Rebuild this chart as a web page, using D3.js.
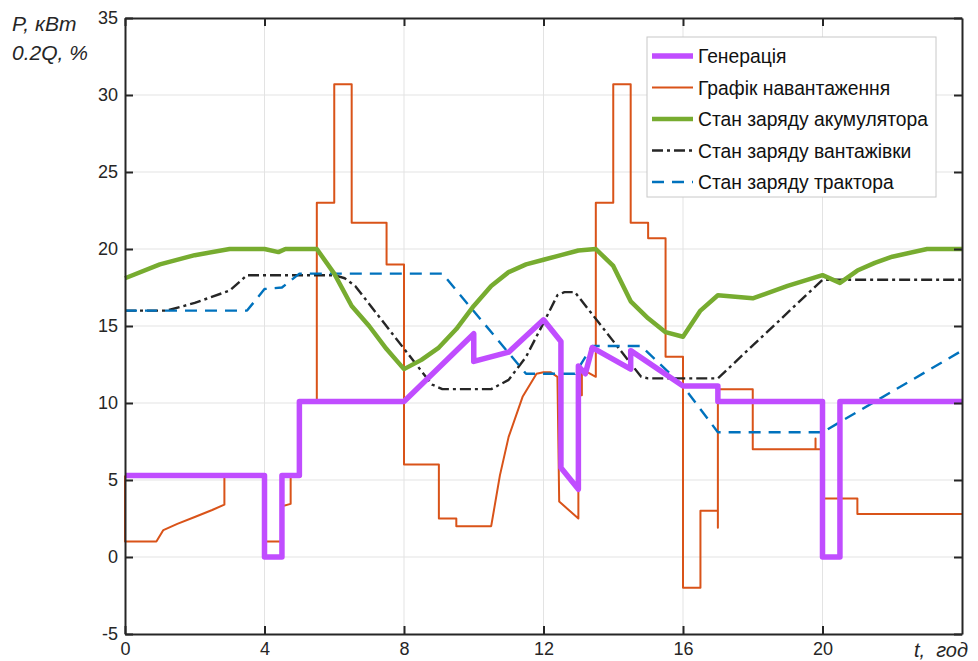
<!DOCTYPE html>
<html>
<head>
<meta charset="utf-8">
<script src="https://cdn.jsdelivr.net/npm/d3@7"></script>
<style>
  body { margin: 0; background: #fff; }
  svg { display: block; font-family: "Liberation Sans", Arial, sans-serif; }
</style>
</head>
<body>
<div id="vis"></div>
<script>
// series names (legend order)
const names = ["Генерація", "Графік навантаження", "Стан заряду акумулятора", "Стан заряду вантажівки", "Стан заряду трактора"];

// [t, value] pairs
const generation = [[0,5.3],[4,5.3],[4,0],[4.5,0],[4.5,5.3],[5,5.3],[5,10.1],[8,10.1],[10,14.5],[10,12.7],[11,13.3],[12,15.4],[12.5,14],[12.5,5.8],[13,4.4],[13,12.4],[13.2,11.9],[13.4,13.6],[14.5,12.2],[14.5,13.4],[16,11.1],[17,11.1],[17,10.1],[20,10.1],[20,0],[20.5,0],[20.5,10.1],[24,10.1]];
const load = [[0,5.3],[0,1],[0.9,1],[1.1,1.75],[1.5,2.15],[2,2.6],[2.5,3.05],[2.85,3.4],[2.85,5.2],[4,5.2],[4,1],[4.5,1],[4.5,3.3],[4.75,3.45],[4.75,5.2],[5,5.2],[5,10.1],[5.5,10.1],[5.5,23],[6,23],[6,30.7],[6.5,30.7],[6.5,21.7],[7.5,21.7],[7.5,19],[8,19],[8,6],[9,6],[9,2.5],[9.5,2.5],[9.5,2],[10.5,2],[10.75,5.3],[11,7.8],[11.4,10.4],[11.8,11.9],[12,12],[12.2,12],[12.4,11.7],[12.45,3.6],[13,2.5],[13,10.5],[13.1,10.5],[13.1,12.2],[13.5,11.7],[13.5,23],[14,23],[14,30.7],[14.5,30.7],[14.5,21.7],[15,21.7],[15,20.7],[15.5,20.7],[15.5,13],[16,13],[16,-2],[16.5,-2],[16.5,3],[17,3],[17,1.9],[17,10.9],[18,10.9],[18,7],[19.8,7],[19.8,7.7],[19.8,7],[20,7],[20,3.8],[21,3.8],[21,2.8],[24,2.8]];
const battery = [[0,18.1],[1,19],[2,19.6],[3,20],[4,20],[4.4,19.8],[4.6,20],[5.5,20],[6,18.4],[6.5,16.3],[7,15],[7.5,13.5],[8,12.2],[8.5,12.8],[9,13.6],[9.5,14.8],[10,16.3],[10.5,17.6],[11,18.5],[11.5,19],[12,19.3],[12.5,19.6],[13,19.9],[13.5,20],[14,18.9],[14.5,16.6],[15,15.5],[15.5,14.6],[16,14.3],[16.5,16],[17,17],[18,16.8],[19,17.6],[20,18.3],[20.5,17.8],[21,18.6],[21.5,19.1],[22,19.5],[23,20],[24,20]];
const truck = [[0,16],[1.2,16],[2,16.5],[3,17.3],[3.5,18.3],[6,18.3],[6.3,18.1],[6.6,17.6],[8.8,11.2],[9.1,10.9],[10.5,10.9],[11,11.5],[11.5,13],[12,15.2],[12.4,17],[12.6,17.2],[12.9,17.2],[14.8,11.7],[15,11.6],[17,11.6],[20,18],[24,18]];
const tractor = [[0,16],[3.5,16],[4,17.4],[4.5,17.5],[5,18.4],[9.1,18.4],[11.5,11.9],[12.9,11.9],[13.4,13.7],[14.8,13.7],[16,11.1],[17,8.1],[20,8.1],[24,13.4]];

const xTicks = [0, 4, 8, 12, 16, 20];
const yTicks = [-5, 0, 5, 10, 15, 20, 25, 30, 35];

const FRAME_WIDTH = 978;
const FRAME_HEIGHT = 661;
const MARGINS = {left: 125, right: 16, top: 18, bottom: 27};
const VIS_WIDTH = FRAME_WIDTH - MARGINS.left - MARGINS.right;
const VIS_HEIGHT = FRAME_HEIGHT - MARGINS.top - MARGINS.bottom;

const FRAME = d3.select("#vis")
  .append("svg")
    .attr("width", FRAME_WIDTH)
    .attr("height", FRAME_HEIGHT);

const X = d3.scaleLinear().domain([0, 24]).range([0, VIS_WIDTH]);
const Y = d3.scaleLinear().domain([-5, 35]).range([VIS_HEIGHT, 0]);

const G = FRAME.append("g")
  .attr("transform", "translate(" + MARGINS.left + "," + MARGINS.top + ")");

// grid
G.selectAll(".gx").data(xTicks.slice(1)).enter().append("line")
  .attr("x1", d => X(d)).attr("x2", d => X(d))
  .attr("y1", 0).attr("y2", VIS_HEIGHT)
  .attr("stroke", "#e3e3e3").attr("stroke-width", 1);
G.selectAll(".gy").data(yTicks.slice(1, -1)).enter().append("line")
  .attr("x1", 0).attr("x2", VIS_WIDTH)
  .attr("y1", d => Y(d)).attr("y2", d => Y(d))
  .attr("stroke", "#e3e3e3").attr("stroke-width", 1);

// series
const line = d3.line().x(d => X(d[0])).y(d => Y(d[1]));
const styles = [
  {data: generation, color: "#c04dff", width: 5.5, dash: null},
  {data: load, color: "#d95319", width: 2, dash: null},
  {data: battery, color: "#77ac30", width: 4.5, dash: null},
  {data: truck, color: "#262626", width: 2.4, dash: "11,4,3,4"},
  {data: tractor, color: "#0072bd", width: 2.4, dash: "12,8"}
];
const drawOrder = [1, 3, 4, 2, 0];
drawOrder.forEach(i => {
  const s = styles[i];
  G.append("path")
    .datum(s.data)
    .attr("d", line)
    .attr("fill", "none")
    .attr("stroke", s.color)
    .attr("stroke-width", s.width)
    .attr("stroke-linejoin", "round")
    .attr("stroke-dasharray", s.dash);
});

// axes (box with inward ticks)
const axisStyle = g => {
  g.select(".domain").attr("stroke", "#262626").attr("stroke-width", 2);
  g.selectAll(".tick line").attr("stroke", "#262626").attr("stroke-width", 2);
  g.selectAll("text").attr("fill", "#262626").attr("font-size", 18);
};
G.append("g")
  .attr("transform", "translate(0," + VIS_HEIGHT + ")")
  .call(d3.axisBottom(X).tickValues(xTicks).tickSizeInner(-8).tickSizeOuter(0).tickPadding(8))
  .call(axisStyle);
G.append("g")
  .call(d3.axisTop(X).tickValues(xTicks).tickSizeInner(-8).tickSizeOuter(0).tickFormat(""))
  .call(axisStyle);
G.append("g")
  .call(d3.axisLeft(Y).tickValues(yTicks).tickSizeInner(-8).tickSizeOuter(0).tickPadding(7).tickFormat(d => String(d)))
  .call(axisStyle);
G.append("g")
  .attr("transform", "translate(" + VIS_WIDTH + ",0)")
  .call(d3.axisRight(Y).tickValues(yTicks).tickSizeInner(-8).tickSizeOuter(0).tickFormat(""))
  .call(axisStyle);

// axis labels
FRAME.append("text").attr("x", 12).attr("y", 31)
  .attr("font-size", 21).attr("font-style", "italic").attr("fill", "#262626")
  .text("P, кВт");
FRAME.append("text").attr("x", 12).attr("y", 60)
  .attr("font-size", 21).attr("font-style", "italic").attr("fill", "#262626")
  .text("0.2Q, %");
FRAME.append("text").attr("x", 968).attr("y", 657).attr("text-anchor", "end")
  .attr("font-size", 20).attr("font-style", "italic").attr("fill", "#262626")
  .attr("xml:space", "preserve")
  .text("t,  год");

// legend
const LEG = FRAME.append("g").attr("transform", "translate(647,37)");
LEG.append("rect")
  .attr("width", 289).attr("height", 160)
  .attr("fill", "#fff").attr("stroke", "#c8c8c8").attr("stroke-width", 1);
names.forEach((n, i) => {
  const s = styles[i];
  const yy = 19 + i * 31.5;
  LEG.append("line")
    .attr("x1", 5).attr("x2", 46).attr("y1", yy).attr("y2", yy)
    .attr("stroke", s.color).attr("stroke-width", s.width)
    .attr("stroke-dasharray", s.dash);
  LEG.append("text")
    .attr("x", 51).attr("y", yy + 7)
    .attr("font-size", 19.3).attr("fill", "#111")
    .text(n);
});
</script>
</body>
</html>
